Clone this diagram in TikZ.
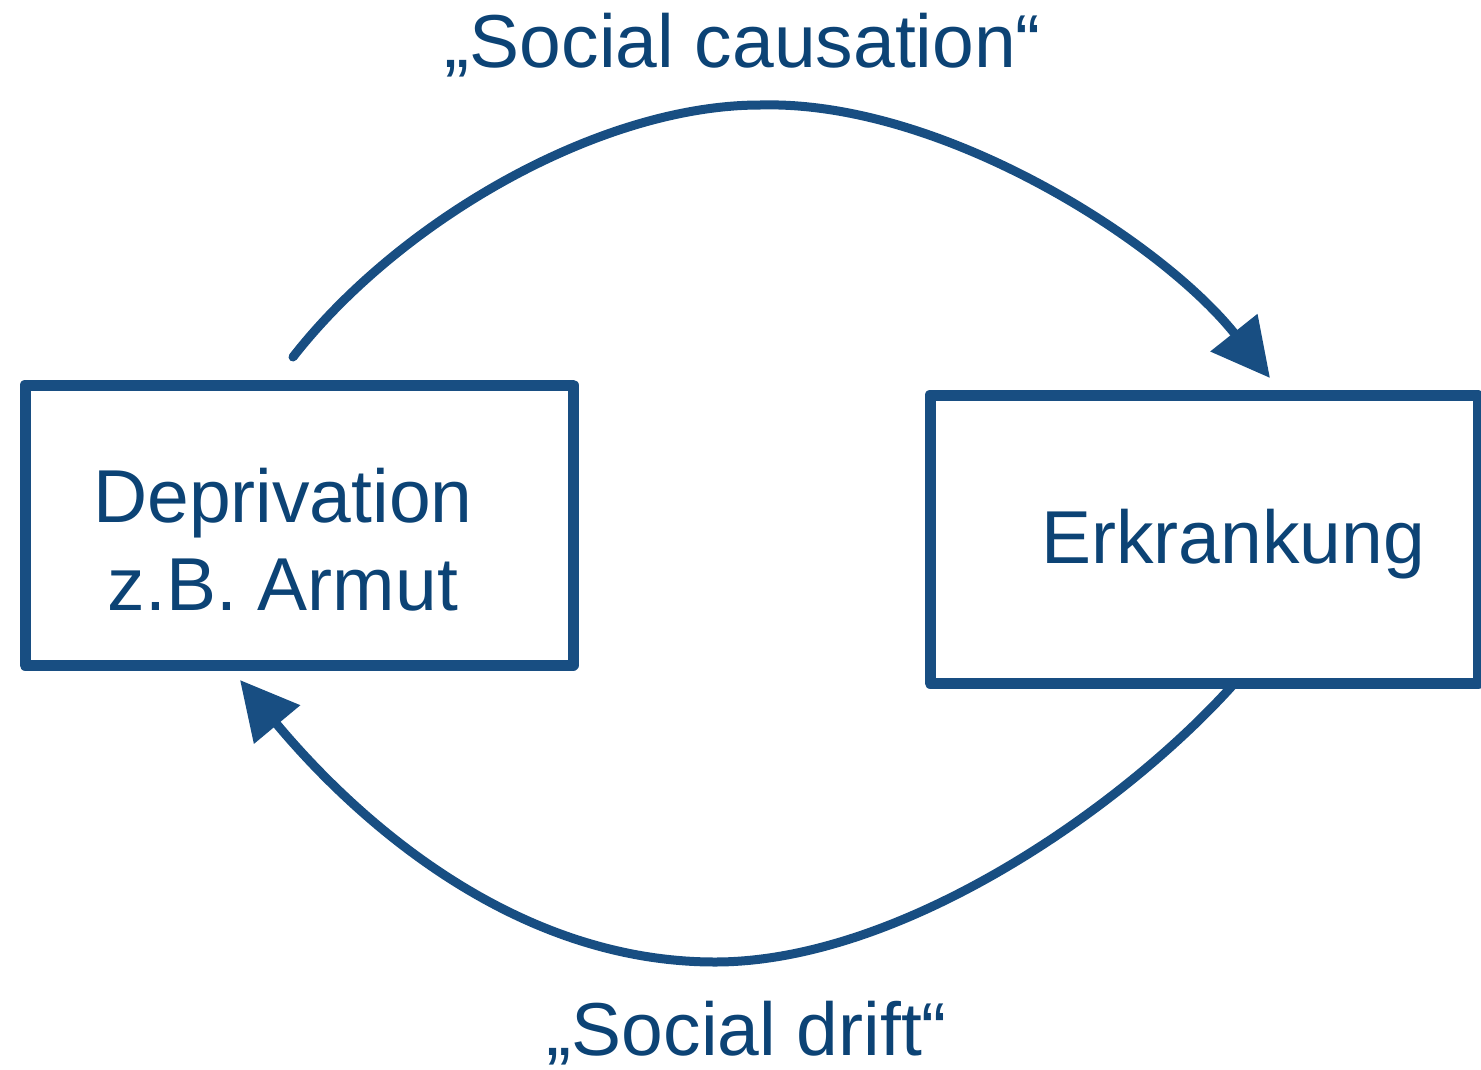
\documentclass[tikz,border=0pt]{standalone}
\usepackage{fontspec}
\setmainfont{Liberation Sans}
\usetikzlibrary{arrows.meta}
\definecolor{lineblue}{RGB}{24,78,130}
\definecolor{textblue}{RGB}{12,67,117}
\begin{document}
\begin{tikzpicture}[x=1pt,y=-1pt,
  box/.style={draw=lineblue,line width=11pt,line join=round,minimum width=548pt,minimum height=#1,inner sep=0pt,rectangle},
  lbl/.style={text=textblue,font=\fontsize{75}{88}\selectfont,anchor=base,inner sep=0pt},
  arc/.style={draw=lineblue,line width=9pt,line cap=round,-{Triangle[length=58pt,width=58pt]}}]
\useasboundingbox (0,0) rectangle (1481,1069);
\node[box=280pt] (lbox) at (299,525) {};
\node[box=288pt] (rbox) at (1204,539) {};
\node[lbl] (dep1) at (283,522) {Deprivation};
\node[lbl] (dep2) at (283,610) {z.B. Armut};
\node[lbl] (erk) at (1233,563) {Erkrankung};
\node[lbl] (top) at (743,67) {„Social causation“};
\node[lbl] (bot) at (747,1055) {„Social drift“};
\coordinate (s1) at (293,357);
\coordinate (e1) at (1270,378);
\coordinate (s2) at (1232,686);
\coordinate (e2) at (240,680);
\draw[arc] (s1) .. controls (400,220) and (600,105) .. (760,105)
                .. controls (940,100) and (1160,240) .. (e1);
\draw[arc] (s2) .. controls (1120,810) and (900,962) .. (715,962)
                .. controls (500,962) and (340,800) .. (e2);
\end{tikzpicture}
\end{document}
